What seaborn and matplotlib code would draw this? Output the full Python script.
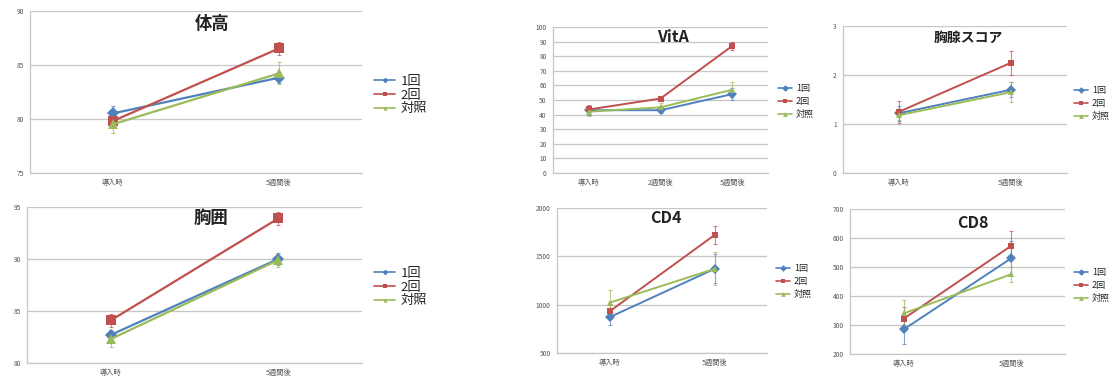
import matplotlib
matplotlib.use("Agg")
import matplotlib.pyplot as plt
import seaborn as sns
import pandas as pd
import numpy as np

# ---- data ----
groups = ["1回", "2回", "対照"]
times_2 = ["導入時", "5週間後"]
times_3 = ["導入時", "2週間後", "5週間後"]

height_mean = [[80.5, 83.8], [79.8, 86.5], [79.5, 84.2]]
height_err = [[0.7, 0.5], [0.5, 0.6], [0.8, 1.0]]

chest_mean = [[82.7, 90.0], [84.1, 93.9], [82.3, 89.9]]
chest_err = [[0.5, 0.6], [0.6, 0.6], [0.8, 0.7]]

vita_mean = [[43, 43, 54], [43.5, 51, 87], [42, 45, 57]]
vita_err = [[3, 2, 4], [3, 2, 3], [3, 3, 5]]

thymus_mean = [[1.22, 1.70], [1.25, 2.25], [1.18, 1.65]]
thymus_err = [[0.15, 0.15], [0.22, 0.25], [0.10, 0.20]]

cd4_mean = [[870, 1370], [930, 1720], [1020, 1370]]
cd4_err = [[80, 150], [80, 90], [130, 170]]

cd8_mean = [[285, 530], [322, 573], [340, 475]]
cd8_err = [[50, 60], [40, 50], [45, 25]]

# ---- style ----
sns.set_theme(style="white")
plt.rcParams["font.family"] = ["Noto Sans CJK JP", "DejaVu Sans"]

palette = {"1回": "#4F81BD", "2回": "#C0504D", "対照": "#9BBB59"}
markers = {"1回": "D", "2回": "s", "対照": "^"}
grid_c = "#c6c6c6"
tick_c = "#555555"

fig = plt.figure(figsize=(11.15, 3.78), dpi=100)


def draw(rect, title, times, means, errs, ylim, yticks, title_xy,
         title_size, big=False, legend_xy=None):
    ax = fig.add_axes(rect)
    rows = []
    for g, m_list, e_list in zip(groups, means, errs):
        for i, (m, e) in enumerate(zip(m_list, e_list)):
            rows.append({"x": i, "value": m, "err": e, "group": g})
    df = pd.DataFrame(rows)
    ms = 6.5 if big else 5.0
    sns.lineplot(data=df, x="x", y="value", hue="group", style="group",
                 palette=palette, markers=markers, dashes=False,
                 markersize=ms, linewidth=1.6 if big else 1.4,
                 markeredgewidth=0, ax=ax, legend=False, zorder=3)
    for g in groups:
        sub = df[df["group"] == g]
        ax.errorbar(sub["x"], sub["value"], yerr=sub["err"], fmt="none",
                    ecolor=palette[g], elinewidth=0.8, capsize=1.5,
                    capthick=0.8, alpha=0.7, zorder=2)
    n = len(times)
    ax.set_xlim(-0.5, n - 0.5)
    ax.set_ylim(*ylim)
    ax.set_yticks(yticks)
    ax.set_yticklabels([str(t) for t in yticks], fontsize=4.8, color=tick_c)
    ax.set_xticks(range(n))
    ax.set_xticklabels(times, fontsize=5.2, color=tick_c)
    ax.set_xticks(np.arange(-0.5, n, 1.0), minor=True)
    ax.tick_params(axis="x", which="major", length=0, pad=4)
    ax.tick_params(axis="x", which="minor", length=2.5, color=grid_c)
    ax.tick_params(axis="y", length=2.5, color=grid_c, pad=2)
    ax.set_xlabel("")
    ax.set_ylabel("")
    ax.yaxis.grid(True, color=grid_c, linewidth=0.9)
    ax.set_axisbelow(True)
    for s in ["top", "right"]:
        ax.spines[s].set_visible(False)
    for s in ["left", "bottom"]:
        ax.spines[s].set_color(grid_c)
        ax.spines[s].set_linewidth(0.9)
    ax.text(title_xy[0], title_xy[1], title, transform=ax.transAxes,
            ha="center", va="center", fontsize=title_size,
            fontweight="bold", color="#222222")
    if legend_xy is not None:
        handles = [
            plt.Line2D([], [], color=palette[g], marker=markers[g],
                       markersize=3 if big else 3.4, markeredgewidth=0,
                       linewidth=1.2)
            for g in groups
        ]
        fig.legend(handles, groups, loc="upper left",
                   bbox_to_anchor=legend_xy, frameon=False,
                   fontsize=9.5 if big else 6.5,
                   handlelength=1.6, handletextpad=0.4,
                   labelspacing=0.05 if big else 0.45,
                   borderaxespad=0, borderpad=0)
    return ax


W, H = 1115.0, 378.0


def rect(x0, x1, y_top, y_bot):
    return [x0 / W, 1 - y_bot / H, (x1 - x0) / W, (y_bot - y_top) / H]


draw(rect(30, 362, 10.5, 173), "体高", times_2, height_mean, height_err,
     (75, 90), [75, 80, 85, 90], (0.55, 0.92), 12.5, big=True,
     legend_xy=(374 / W, 1 - 75 / H))
draw(rect(27, 362, 207, 363), "胸囲", times_2, chest_mean, chest_err,
     (80, 95), [80, 85, 90, 95], (0.55, 0.93), 12.5, big=True,
     legend_xy=(374 / W, 1 - 267 / H))
draw(rect(553, 768, 27, 173), "VitA", times_3, vita_mean, vita_err,
     (0, 100), list(range(0, 101, 10)), (0.56, 0.93), 11.5,
     legend_xy=(778 / W, 1 - 84 / H))
draw(rect(843, 1067, 26, 173), "胸腺スコア", times_2, thymus_mean, thymus_err,
     (0, 3), [0, 1, 2, 3], (0.56, 0.92), 10,
     legend_xy=(1074 / W, 1 - 86 / H))
draw(rect(557, 767, 208, 353), "CD4", times_2, cd4_mean, cd4_err,
     (500, 2000), [500, 1000, 1500, 2000], (0.52, 0.93), 11.5,
     legend_xy=(776 / W, 1 - 264 / H))
draw(rect(850, 1065, 209, 354), "CD8", times_2, cd8_mean, cd8_err,
     (200, 700), [200, 300, 400, 500, 600, 700], (0.57, 0.9), 11.5,
     legend_xy=(1074 / W, 1 - 268 / H))

fig.savefig("out.png", dpi=100, facecolor="white")
